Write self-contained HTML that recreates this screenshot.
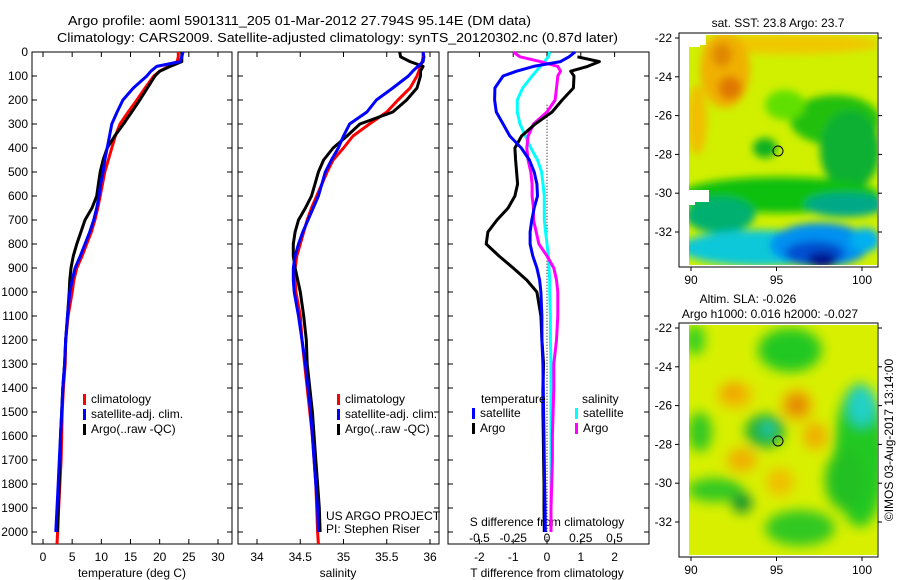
<!DOCTYPE html>
<html><head><meta charset="utf-8"><style>
html,body{margin:0;padding:0;background:#fff}
svg{display:block;font-family:"Liberation Sans",sans-serif}
text{font-size:12px;fill:#000}
</style></head><body>
<svg id="chart" width="900" height="580" viewBox="0 0 900 580" xmlns="http://www.w3.org/2000/svg">
<defs>
<filter id="blur1" x="-50%" y="-50%" width="200%" height="200%"><feGaussianBlur stdDeviation="4"/></filter>
<filter id="blur2" x="-50%" y="-50%" width="200%" height="200%"><feGaussianBlur stdDeviation="6"/></filter>
<clipPath id="clipMap1"><rect x="689" y="35" width="188" height="230"/></clipPath>
<clipPath id="clipMap2"><rect x="689" y="325" width="188" height="230"/></clipPath>
</defs>
<text x="68" y="25" textLength="463" lengthAdjust="spacingAndGlyphs" style="font-size:13px">Argo profile: aoml 5901311_205 01-Mar-2012 27.794S 95.14E (DM data)</text>
<text x="57" y="42" textLength="561" lengthAdjust="spacingAndGlyphs" style="font-size:13px">Climatology: CARS2009. Satellite-adjusted climatology: synTS_20120302.nc (0.87d later)</text>

<g id="panels"></g>

<!-- Map 1: SST -->
<g>
<text x="778" y="27" text-anchor="middle">sat. SST: 23.8 Argo: 23.7</text>
<g clip-path="url(#clipMap1)">
<rect x="689" y="35" width="188" height="230" fill="#d0f000"/>
<g filter="url(#blur1)">
<ellipse cx="790" cy="44" rx="90" ry="10" fill="#f0c800"/>
<ellipse cx="725" cy="70" rx="25" ry="38" fill="#f0b000"/>
<ellipse cx="730" cy="88" rx="12" ry="12" fill="#e07800"/>
<ellipse cx="722" cy="55" rx="10" ry="12" fill="#e08800"/>
<ellipse cx="697" cy="120" rx="10" ry="35" fill="#f0c000"/>
<ellipse cx="835" cy="120" rx="45" ry="25" fill="#20c010"/>
<ellipse cx="850" cy="150" rx="30" ry="40" fill="#10b030"/>
<ellipse cx="785" cy="105" rx="20" ry="15" fill="#60e000"/>
<ellipse cx="765" cy="148" rx="12" ry="10" fill="#10b020"/>
<ellipse cx="780" cy="195" rx="100" ry="18" fill="#10c010"/>
<ellipse cx="720" cy="215" rx="35" ry="18" fill="#00b070"/>
<ellipse cx="845" cy="205" rx="40" ry="12" fill="#00a888"/>
<ellipse cx="760" cy="248" rx="80" ry="18" fill="#10c8d8"/>
<ellipse cx="820" cy="245" rx="50" ry="22" fill="#0090f0"/>
<ellipse cx="815" cy="253" rx="30" ry="12" fill="#0050d0"/>
<ellipse cx="822" cy="260" rx="15" ry="8" fill="#001890"/>
<ellipse cx="865" cy="240" rx="15" ry="12" fill="#00b0f0"/>
</g>
<rect x="689" y="35" width="11" height="12" fill="#fff"/>
<rect x="700" y="35" width="6" height="10" fill="#fff"/>
<rect x="689" y="190" width="20" height="12" fill="#fff"/>
<rect x="689" y="200" width="6" height="5" fill="#fff"/>
</g>
<rect x="679" y="33" width="199" height="234" fill="none" stroke="#000"/>
<circle cx="778" cy="151" r="5" fill="none" stroke="#000"/>
</g>

<!-- Map 2: SLA -->
<g>
<text x="748" y="303" text-anchor="middle">Altim. SLA: -0.026</text>
<text x="770" y="318" text-anchor="middle">Argo h1000: 0.016 h2000: -0.027</text>
<g clip-path="url(#clipMap2)">
<rect x="689" y="325" width="188" height="230" fill="#d8f000"/>
<g filter="url(#blur2)">
<ellipse cx="790" cy="350" rx="32" ry="22" fill="#20c820"/>
<ellipse cx="695" cy="340" rx="10" ry="15" fill="#30d020"/>
<ellipse cx="860" cy="455" rx="26" ry="72" fill="#20c820"/>
<ellipse cx="845" cy="480" rx="20" ry="30" fill="#20c020"/>
<ellipse cx="862" cy="406" rx="14" ry="20" fill="#20d0c8"/>
<ellipse cx="765" cy="431" rx="20" ry="17" fill="#20b030"/>
<ellipse cx="768" cy="429" rx="6" ry="7" fill="#20d0c0"/>
<ellipse cx="700" cy="432" rx="12" ry="20" fill="#30c820"/>
<ellipse cx="715" cy="490" rx="28" ry="12" fill="#30c820"/>
<ellipse cx="742" cy="503" rx="10" ry="10" fill="#109030"/>
<ellipse cx="800" cy="528" rx="35" ry="18" fill="#30c820"/>
<ellipse cx="735" cy="395" rx="18" ry="14" fill="#f0c000"/>
<ellipse cx="733" cy="392" rx="10" ry="8" fill="#f0a000"/>
<ellipse cx="797" cy="405" rx="16" ry="16" fill="#f0b000"/>
<ellipse cx="797" cy="405" rx="9" ry="9" fill="#e08000"/>
<ellipse cx="815" cy="436" rx="12" ry="14" fill="#f0b000"/>
<ellipse cx="742" cy="460" rx="15" ry="12" fill="#f0b000"/>
<ellipse cx="780" cy="482" rx="14" ry="14" fill="#f0c000"/>
</g>
</g>
<rect x="679" y="323" width="199" height="234" fill="none" stroke="#000"/>
<circle cx="778" cy="441" r="5" fill="none" stroke="#000"/>
<text transform="translate(893,440) rotate(-90)" text-anchor="middle">©IMOS 03-Aug-2017 13:14:00</text>
</g>
<g id="mapaxes"></g>
</svg>
<script>
// ---- data ----
const depths = [0,20,40,60,80,100,150,200,250,300,350,400,450,500,550,600,650,700,750,800,850,900,950,1000,1100,1200,1300,1400,1500,1600,1700,1800,1900,2000,2050];
const tempClim = [23.2,23.2,23.0,21.5,20,19,17.5,16.1,14.6,13.2,12.4,11.8,11.2,10.6,10.2,9.8,9.4,8.9,8.3,7.5,6.7,5.8,5.3,5.0,4.3,3.9,3.8,3.5,3.3,3.2,3.1,2.9,2.7,2.5,2.4];
const tempSat = [24,23.8,23.5,19.5,18.5,17.8,15.5,13.7,12.7,11.8,11.4,11.0,10.6,10.3,9.9,9.6,9.2,8.7,8.0,7.2,6.4,5.5,5.0,4.6,4.2,3.9,3.7,3.4,3.2,3.0,2.8,2.6,2.4,2.2,null];
const tempArgo = [23.8,23.8,23.8,21.8,20,19.2,17.9,16.6,15.2,13.8,12.3,11,10.3,9.8,9.5,9.2,8.4,7.2,6.5,5.8,5.2,4.8,4.6,4.5,4.2,3.9,3.7,3.4,3.2,3.0,2.9,2.8,2.6,2.5,null];
const salClim = [35.92,35.92,35.91,35.89,35.87,35.85,35.77,35.63,35.5,35.3,35.11,35.0,34.88,34.81,34.75,34.69,34.63,34.58,34.54,34.5,34.46,34.44,34.44,34.45,34.5,34.52,34.55,34.58,34.61,34.64,34.66,34.68,34.69,34.7,34.71];
const salSat = [35.92,35.93,35.92,35.86,35.8,35.75,35.57,35.38,35.27,35.07,35.0,34.94,34.86,34.79,34.75,34.71,34.65,34.59,34.53,34.48,34.44,34.42,34.42,34.43,34.48,34.52,34.56,34.59,34.62,34.64,34.66,34.68,34.7,34.71,null];
const salArgo = [35.65,35.66,35.77,35.92,35.89,35.89,35.85,35.73,35.57,35.19,35.04,34.88,34.77,34.71,34.67,34.63,34.56,34.48,34.44,34.42,34.42,34.44,34.47,34.5,34.54,34.57,34.58,34.61,34.64,34.66,34.68,34.7,34.72,34.73,null];
const dTSat = [0.83,0.65,0.4,-0.4,-0.9,-1.3,-1.54,-1.55,-1.5,-1.3,-1.1,-0.76,-0.52,-0.38,-0.3,-0.28,-0.38,-0.45,-0.5,-0.5,-0.42,-0.3,-0.22,-0.18,-0.15,-0.15,-0.12,-0.11,-0.1,-0.09,-0.08,-0.07,-0.06,-0.05,null];
const dTArgo = [null,0.9,1.55,1.2,0.7,0.8,0.78,0.45,0.15,-0.35,-0.75,-0.95,-0.93,-0.9,-0.87,-0.95,-1.15,-1.48,-1.75,-1.8,-1.42,-1.0,-0.6,-0.3,-0.18,-0.15,-0.1,-0.12,-0.12,-0.11,-0.1,-0.09,-0.09,-0.08,null];
const dSSat = [0.02,0.01,-0.02,-0.05,-0.08,-0.11,-0.18,-0.22,-0.22,-0.2,-0.16,-0.12,-0.07,-0.04,-0.03,-0.02,-0.02,-0.02,-0.01,0,0.01,0.015,0.02,0.02,0.025,0.025,0.03,0.03,0.03,0.03,0.03,0.03,0.03,0.03,null];
const dSArgo = [-0.25,-0.2,-0.05,0.08,0.1,0.08,0.07,0.06,0,-0.1,-0.14,-0.15,-0.14,-0.12,-0.11,-0.11,-0.1,-0.1,-0.08,-0.06,0,0.05,0.07,0.08,0.08,0.07,0.05,0.05,0.045,0.04,0.04,0.035,0.03,0.03,null];
const depthTicks = [0,100,200,300,400,500,600,700,800,900,1000,1100,1200,1300,1400,1500,1600,1700,1800,1900,2000];
const tempTicks = [0,5,10,15,20,25,30];
const salTicks = [34,34.5,35,35.5,36];
const dTTicks = [-2,-1,0,1,2];
const dSTicks = [-0.5,-0.25,0,0.25,0.5];
const latTicks = [-22,-24,-26,-28,-30,-32];
const lonTicks = [90,95,100];

// ---- scales ----
const NS="http://www.w3.org/2000/svg";
const yD = d => 52 + d*0.24;
const xT = t => 43 + t*5.833;
const xS = s => 257 + (s-34)*86.5;
const xdT = t => 547 + t*33.8;
const xdS = s => 547 + s*135;
const P = [{x0:32,x1:232},{x0:238,x1:439},{x0:448,x1:649}];
const TOP=52, BOT=544;
const g = document.getElementById('panels');
function mk(tag, attrs, parent){const e=document.createElementNS(NS,tag);for(const k in attrs)e.setAttribute(k,attrs[k]);(parent||g).appendChild(e);return e;}
function txt(x,y,s,anchor,parent){const e=mk('text',{x:x,y:y,'text-anchor':anchor||'middle'},parent);e.textContent=s;return e;}

P.forEach((p,i)=>{
  const r=mk('rect',{x:p.x0,y:TOP,width:p.x1-p.x0,height:BOT-TOP,fill:'none',stroke:'#000'});
  
  
});
depthTicks.forEach(d=>{
  const y=yD(d);
  const l=txt(28,y+4,String(d),'end');
  
  
  P.forEach(p=>{
    mk('line',{x1:p.x0,y1:y,x2:p.x0+5,y2:y,stroke:'#000'});
    mk('line',{x1:p.x1,y1:y,x2:p.x1-5,y2:y,stroke:'#000'});
  });
});
function xticks(vals,fx,labY,top,name){
  vals.forEach(v=>{
    const x=fx(v);
    mk('line',{x1:x,y1:BOT,x2:x,y2:BOT-5,stroke:'#000'});
    if(top) mk('line',{x1:x,y1:TOP,x2:x,y2:TOP+5,stroke:'#000'});
    const l=txt(x,labY,String(v));
    
    
  });
}
xticks(tempTicks,xT,561,true,'temperature-tick-label');
xticks(salTicks,xS,561,true,'salinity-tick-label');
xticks(dTTicks,xdT,561,true,'t-diff-tick-label');
dSTicks.forEach(v=>{
  const l=txt(xdS(v),542,String(v));
  
  
});
[['temperature (deg C)',132,'x-axis-title-temperature'],['salinity',338,'x-axis-title-salinity'],['T difference from climatology',547,'x-axis-title-t-diff']].forEach(a=>{
  const l=txt(a[1],577,a[0]);  
});
{const l=txt(547,526,'S difference from climatology');}
{const l=txt(326,520,'US ARGO PROJECT','start');}
{const l=txt(326,533,'PI: Stephen Riser','start');}

{const z=mk('line',{x1:xdT(0),y1:yD(220),x2:xdT(0),y2:BOT,stroke:'#000','stroke-dasharray':'1,2'});
}

function series(vals,fx,color,name){
  let segs=[],cur=[];
  vals.forEach((v,i)=>{ if(v===null){if(cur.length)segs.push(cur);cur=[];} else cur.push(fx(v).toFixed(1)+','+yD(depths[i]).toFixed(1)); });
  if(cur.length)segs.push(cur);
  segs.forEach(s=>{
    const e=mk('polyline',{points:s.join(' '),fill:'none',stroke:color,'stroke-width':3,'stroke-linejoin':'round'});
    
    
  });
}
series(tempClim,xT,'#ff0000','temp-climatology-line');
series(tempArgo,xT,'#000000','temp-argo-line');
series(tempSat,xT,'#0000ff','temp-satellite-line');
series(salClim,xS,'#ff0000','salinity-climatology-line');
series(salArgo,xS,'#000000','salinity-argo-line');
series(salSat,xS,'#0000ff','salinity-satellite-line');
series(dSSat,xdS,'#00ffff','s-diff-satellite-line');
series(dSArgo,xdS,'#ff00ff','s-diff-argo-line');
series(dTArgo,xdT,'#000000','t-diff-argo-line');
series(dTSat,xdT,'#0000ff','t-diff-satellite-line');

function legend(x,y,color,label,name){
  const r=mk('rect',{x:x,y:y-9,width:3,height:11,fill:color});
  
  
  const t=txt(x+8,y,label,'start');
  
  
}
[[83,'#ff0000','climatology'],[83,'#0000ff','satellite-adj. clim.'],[83,'#000000','Argo(..raw -QC)']].forEach((a,i)=>legend(a[0],403+i*15,a[1],a[2],'legend-temp-'+i));
[[337,'#ff0000','climatology'],[337,'#0000ff','satellite-adj. clim.'],[337,'#000000','Argo(..raw -QC)']].forEach((a,i)=>legend(a[0],403+i*15,a[1],a[2],'legend-sal-'+i));
{const t=txt(481,403,'temperature','start');}
{const t=txt(582,403,'salinity','start');}
legend(472,417,'#0000ff','satellite','legend-dt-satellite');
legend(472,432,'#000000','Argo','legend-dt-argo');
legend(575,417,'#00ffff','satellite','legend-ds-satellite');
legend(575,432,'#ff00ff','Argo','legend-ds-argo');

const ma=document.getElementById('mapaxes');
const mxL = lon => 691 + (lon-90)*17.1;
[[33,267,38],[323,557,328]].forEach((m,mi)=>{
  latTicks.forEach(lat=>{
    const y=m[2]+(-22-lat)*19.4;
    mk('line',{x1:679,y1:y,x2:675,y2:y,stroke:'#000'},ma);
    mk('line',{x1:878,y1:y,x2:882,y2:y,stroke:'#000'},ma);
    const l=txt(672,y+4,String(lat),'end',ma);
    
    
  });
  lonTicks.forEach(lon=>{
    const x=mxL(lon);
    mk('line',{x1:x,y1:m[1],x2:x,y2:m[1]+4,stroke:'#000'},ma);
    const l=txt(x,m[1]+17,String(lon),'middle',ma);
    
    
  });
});
</script>
</body></html>
